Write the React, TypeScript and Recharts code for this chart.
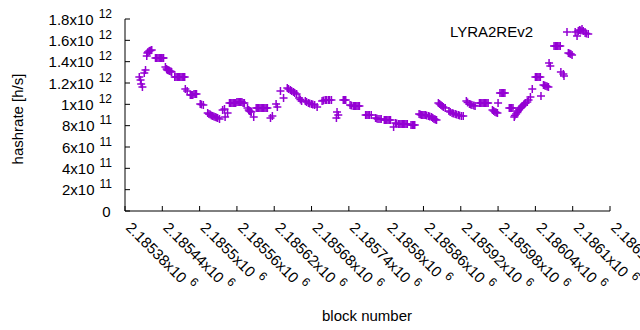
import { ScatterChart, Scatter, XAxis, YAxis, Legend } from 'recharts';

const COLOR = '#9400d3';
const FONT = '"Liberation Sans", Arial, sans-serif';

// [block number, hashrate in GH/s]
const rampUp: [number, number][] = [
  [2185403, 1256], [2185405, 1228], [2185406, 1191], [2185408, 1163], [2185411, 1294], [2185413, 1322],
  [2185415, 1453], [2185416, 1481], [2185417, 1490], [2185419, 1500], [2185421, 1505], [2185423, 1509],
  [2185429, 1434], [2185431, 1434], [2185433, 1434], [2185435, 1434], [2185437, 1434], [2185439, 1434],
  [2185441, 1434], [2185442, 1434],
  [2185445, 1350], [2185447, 1331], [2185448, 1322], [2185450, 1317], [2185452, 1313], [2185454, 1308],
  [2185455, 1303],
  [2185460, 1256], [2185462, 1256], [2185464, 1256], [2185466, 1256], [2185468, 1256], [2185470, 1256],
  [2185472, 1256], [2185474, 1256], [2185476, 1256],
  [2185477, 1144], [2185480, 1125],
  [2185485, 1088], [2185487, 1088], [2185489, 1088], [2185491, 1097], [2185493, 1097], [2185495, 1097],
  [2185501, 1003], [2185503, 998], [2185506, 994],
  [2185513, 919], [2185515, 909], [2185517, 905], [2185519, 895], [2185521, 891], [2185523, 886],
  [2185525, 881], [2185527, 877], [2185529, 872], [2185532, 863],
  [2185537, 947], [2185540, 956], [2185541, 881], [2185545, 919],
];

const middle: [number, number][] = [
  [2185548, 1013], [2185550, 1013], [2185552, 1013], [2185554, 1013], [2185556, 1013], [2185558, 1013],
  [2185560, 1022], [2185562, 1022], [2185564, 1022], [2185566, 1022], [2185568, 1022], [2185570, 1013],
  [2185572, 1013],
  [2185577, 966], [2185579, 947], [2185580, 938], [2185582, 933], [2185583, 928], [2185587, 881],
  [2185591, 966], [2185593, 966], [2185595, 966], [2185597, 966], [2185599, 966], [2185601, 966],
  [2185603, 966], [2185605, 966], [2185607, 966], [2185609, 966],
  [2185614, 872], [2185617, 891], [2185623, 1003], [2185625, 975], [2185630, 1125], [2185635, 1059],
  [2185641, 1153], [2185643, 1144], [2185646, 1134], [2185648, 1125], [2185651, 1116], [2185653, 1106],
  [2185656, 1097],
  [2185660, 1059], [2185662, 1045], [2185664, 1031],
  [2185670, 1031], [2185672, 1022], [2185675, 1013], [2185677, 1008], [2185680, 1003], [2185682, 998],
  [2185685, 994], [2185689, 975],
  [2185697, 1031], [2185699, 1036], [2185702, 1041], [2185704, 1041], [2185707, 1041], [2185709, 1041],
  [2185712, 1041],
  [2185720, 872], [2185721, 928], [2185723, 900],
  [2185731, 1041], [2185733, 1041], [2185735, 1041],
  [2185742, 994], [2185744, 990], [2185747, 984], [2185749, 984], [2185751, 984], [2185753, 984],
  [2185755, 984], [2185757, 984],
];

const trough: [number, number][] = [
  [2185767, 900], [2185769, 900], [2185771, 900], [2185773, 900], [2185776, 900],
  [2185783, 872], [2185785, 868], [2185787, 863], [2185790, 863], [2185792, 863],
  [2185797, 853], [2185799, 853], [2185801, 853], [2185803, 853], [2185805, 853], [2185807, 853],
  [2185812, 788], [2185815, 825], [2185817, 820], [2185820, 816], [2185822, 816], [2185824, 816],
  [2185826, 816], [2185828, 816], [2185830, 816], [2185832, 816], [2185834, 816],
  [2185840, 806], [2185842, 806], [2185844, 806], [2185846, 806],
  [2185853, 909], [2185855, 905], [2185857, 900], [2185859, 900], [2185861, 900],
  [2185863, 900], [2185865, 896], [2185868, 891], [2185870, 886], [2185873, 881], [2185875, 872],
  [2185877, 863], [2185879, 858], [2185881, 853],
  [2185884, 1013], [2185886, 1003], [2185888, 994], [2185890, 984], [2185892, 975], [2185895, 966],
  [2185901, 938], [2185903, 928], [2185906, 919], [2185908, 914], [2185911, 909], [2185913, 905],
  [2185916, 900], [2185918, 895], [2185921, 891], [2185924, 891],
  [2185929, 1031], [2185931, 1017], [2185934, 1003], [2185936, 998], [2185938, 994], [2185941, 989],
  [2185943, 984],
  [2185950, 1013], [2185952, 1013], [2185954, 1013], [2185956, 1013], [2185958, 1013], [2185960, 1013],
  [2185962, 1013], [2185964, 1013],
];

const climb: [number, number][] = [
  [2185971, 947], [2185973, 938], [2185975, 928], [2185977, 923], [2185979, 919], [2185980, 1013],
  [2185983, 1106], [2185985, 1106], [2185987, 1106], [2185989, 1106], [2185991, 1106],
  [2185998, 966], [2186000, 966], [2186002, 966], [2186004, 966],
  [2186006, 881], [2186007, 895], [2186009, 909], [2186011, 923], [2186012, 938], [2186014, 952],
  [2186016, 966], [2186018, 975], [2186019, 984], [2186021, 994], [2186022, 1003], [2186024, 1013],
  [2186027, 1022], [2186029, 1041], [2186032, 1069], [2186035, 1144],
  [2186040, 1256], [2186042, 1256], [2186044, 1256], [2186046, 1256], [2186048, 1256], [2186049, 1078],
  [2186053, 1181], [2186055, 1177], [2186057, 1172], [2186059, 1167], [2186061, 1163],
  [2186062, 1388], [2186064, 1359],
  [2186070, 1547], [2186072, 1547], [2186074, 1547], [2186076, 1547], [2186078, 1547], [2186080, 1547],
  [2186081, 1303], [2186085, 1284], [2186086, 1266],
  [2186093, 1481], [2186095, 1477], [2186097, 1472], [2186099, 1463],
  [2186104, 1678], [2186107, 1641], [2186109, 1688], [2186111, 1697], [2186113, 1692], [2186115, 1706],
  [2186117, 1688], [2186120, 1669], [2186122, 1664], [2186125, 1659],
];

const xTicks = [
  2185380, 2185440, 2185500, 2185560, 2185620, 2185680, 2185740,
  2185800, 2185860, 2185920, 2185980, 2186040, 2186100, 2186160,
];
const yTicks = [0, 2e11, 4e11, 6e11, 8e11, 1e12, 1.2e12, 1.4e12, 1.6e12, 1.8e12];

const data = [...rampUp, ...middle, ...trough, ...climb].map(([block, gh]) => ({
  block,
  hash: gh * 1e9,
}));

const TICK_LEN = 5;

const plusPath = (cx: number, cy: number) =>
  `M${cx - 4},${cy}h8M${cx},${cy - 4}v8`;

const PlusShape = (props: any) => {
  const { cx, cy } = props;
  if (cx == null || cy == null) return null;
  return <path d={plusPath(cx, cy)} stroke={COLOR} strokeWidth={1.5} fill="none" />;
};

function sci(v: number) {
  if (v === 0) return { mant: '0', exp: '' };
  const exp = Math.floor(Math.log10(v) + 1e-9);
  const mant = parseFloat((v / Math.pow(10, exp)).toFixed(1));
  return { mant: `${mant}x10`, exp: String(exp) };
}

const BottomTick = (props: any) => {
  const { x, y, payload } = props;
  const label = `${parseFloat((payload.value / 1e6).toFixed(5))}x10`;
  return (
    <g>
      <line x1={x} y1={y} x2={x} y2={y - TICK_LEN} stroke="#000" />
      <text
        x={x}
        y={y + 17.5}
        transform={`rotate(45 ${x} ${y + 17.5})`}
        textAnchor="start"
        fontSize={15}
        fontFamily={FONT}
        fill="#000"
      >
        {label}
        <tspan dx={5} dy={-7} fontSize={12}>6</tspan>
      </text>
    </g>
  );
};

const TopTick = (props: any) => {
  const { x, y } = props;
  return <line x1={x} y1={y} x2={x} y2={y + TICK_LEN} stroke="#000" />;
};

const LeftTick = (props: any) => {
  const { x, y, payload } = props;
  const { mant, exp } = sci(payload.value);
  return (
    <g>
      <line x1={x} y1={y} x2={x + TICK_LEN} y2={y} stroke="#000" />
      <text
        x={exp ? x - 13 : x - 14.5}
        y={y + 5.5}
        textAnchor="end"
        fontSize={15}
        fontFamily={FONT}
        fill="#000"
      >
        {mant}
        {exp && (
          <tspan dx={5} dy={-7} fontSize={12}>
            {exp}
          </tspan>
        )}
      </text>
    </g>
  );
};

const RightTick = (props: any) => {
  const { x, y } = props;
  return <line x1={x} y1={y} x2={x - TICK_LEN} y2={y} stroke="#000" />;
};

const KeyBox = () => (
  <svg width={640} height={50} style={{ position: 'absolute', left: 0, top: 0 }}>
    <text x={533} y={37} textAnchor="end" fontSize={15} fontFamily={FONT} fill="#000">
      LYRA2REv2
    </text>
    <path d={plusPath(567, 32)} stroke={COLOR} strokeWidth={1.5} fill="none" />
  </svg>
);

export default function App() {
  return (
    <div style={{ position: 'absolute', left: 0, top: 0, width: 640, height: 330, background: '#fff' }}>
      <ScatterChart width={640} height={330} margin={{ top: 19, right: 30, bottom: 0, left: 0 }}>
        <XAxis
          xAxisId="b"
          type="number"
          dataKey="block"
          domain={[2185380, 2186160]}
          ticks={xTicks}
          interval={0}
          allowDataOverflow
          height={119}
          tickSize={0}
          tickMargin={0}
          tickLine={false}
          axisLine={{ stroke: '#000' }}
          tick={<BottomTick />}
        />
        <XAxis
          xAxisId="t"
          orientation="top"
          type="number"
          dataKey="block"
          domain={[2185380, 2186160]}
          ticks={xTicks}
          interval={0}
          allowDataOverflow
          height={0}
          tickSize={0}
          tickMargin={0}
          tickLine={false}
          axisLine={{ stroke: '#000' }}
          tick={<TopTick />}
        />
        <YAxis
          yAxisId="l"
          type="number"
          dataKey="hash"
          domain={[0, 1.8e12]}
          ticks={yTicks}
          interval={0}
          allowDataOverflow
          width={125}
          tickSize={0}
          tickMargin={0}
          tickLine={false}
          axisLine={{ stroke: '#000' }}
          tick={<LeftTick />}
        />
        <YAxis
          yAxisId="r"
          orientation="right"
          type="number"
          dataKey="hash"
          domain={[0, 1.8e12]}
          ticks={yTicks}
          interval={0}
          allowDataOverflow
          width={0}
          tickSize={0}
          tickMargin={0}
          tickLine={false}
          axisLine={{ stroke: '#000' }}
          tick={<RightTick />}
        />
        <Legend
          layout="horizontal"
          verticalAlign="middle"
          align="center"
          wrapperStyle={{ position: 'absolute', left: 0, top: 0, width: 640, height: 0 }}
          content={() => <KeyBox />}
        />
        <Scatter
          name="LYRA2REv2"
          xAxisId="b"
          yAxisId="l"
          data={data}
          shape={<PlusShape />}
          isAnimationActive={false}
        />
      </ScatterChart>
      <svg
        width={640}
        height={330}
        style={{ position: 'absolute', left: 0, top: 0, pointerEvents: 'none' }}
      >
        <text
          x={17}
          y={119}
          transform="rotate(-90 17 119)"
          textAnchor="middle"
          dominantBaseline="central"
          fontSize={15}
          fontFamily={FONT}
          fill="#000"
        >
          hashrate [h/s]
        </text>
        <text x={367} y={321} textAnchor="middle" fontSize={15} fontFamily={FONT} fill="#000">
          block number
        </text>
      </svg>
    </div>
  );
}
